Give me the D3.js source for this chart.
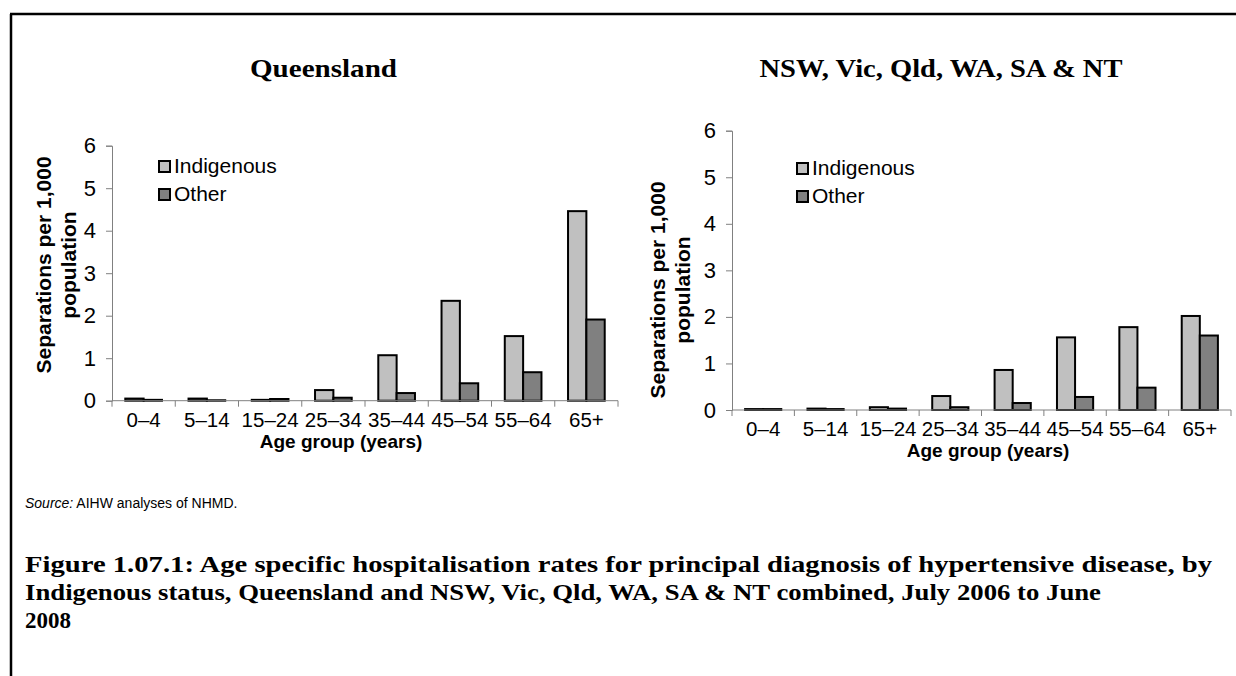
<!DOCTYPE html>
<html>
<head>
<meta charset="utf-8">
<script src="https://cdn.jsdelivr.net/npm/d3@7"></script>
<style>
  html, body { margin: 0; padding: 0; background: #fff; }
  svg { display: block; }
</style>
</head>
<body>
<script>
const categories = ["0–4", "5–14", "15–24", "25–34", "35–44", "45–54", "55–64", "65+"];
const seriesNames = ["Indigenous", "Other"];
const qldIndigenous = [0.05, 0.05, 0.02, 0.25, 1.07, 2.35, 1.52, 4.46];
const qldOther = [0.02, 0.01, 0.04, 0.07, 0.18, 0.41, 0.67, 1.91];
const combIndigenous = [0.02, 0.03, 0.06, 0.30, 0.86, 1.56, 1.78, 2.02];
const combOther = [0.02, 0.02, 0.03, 0.06, 0.15, 0.28, 0.48, 1.60];
const yTicks = [0, 1, 2, 3, 4, 5, 6];
const panelTitles = ["Queensland", "NSW, Vic, Qld, WA, SA & NT"];
const yTitleLines = ["Separations per 1,000", "population"];
const xTitle = "Age group (years)";
const sourceLabel = "Source:";
const sourceText = " AIHW analyses of NHMD.";
const captionLines = [
  "Figure 1.07.1: Age specific hospitalisation rates for principal diagnosis of hypertensive disease, by",
  "Indigenous status, Queensland and NSW, Vic, Qld, WA, SA & NT combined, July 2006 to June",
  "2008"
];

const W = 1236, H = 676;
const colors = { Indigenous: "#c0c0c0", Other: "#808080" };
const sans = "'Liberation Sans', Arial, sans-serif";
const serif = "'Liberation Serif', 'Times New Roman', serif";

const svg = d3.select("body").append("svg").attr("width", W).attr("height", H);

// frame
svg.append("line").attr("x1", 10).attr("x2", W).attr("y1", 14).attr("y2", 14)
  .attr("stroke", "#000").attr("stroke-width", 2.5);
svg.append("line").attr("x1", 11).attr("x2", 11).attr("y1", 14).attr("y2", H)
  .attr("stroke", "#000").attr("stroke-width", 2.5);

const panels = [
  { title: panelTitles[0], titleX: 323.5, titleW: 147, titleY: 77, ind: qldIndigenous, oth: qldOther,
    x0: 112, x1: 618, yTop: 145.7, yBot: 400.7,
    legX: 158, legY: 166, yTitleX: 51, yTitleC: 265, xTitleX: 341 },
  { title: panelTitles[1], titleX: 941, titleW: 363, titleY: 77, ind: combIndigenous, oth: combOther,
    x0: 732, x1: 1231, yTop: 130.7, yBot: 410,
    legX: 796, legY: 168, yTitleX: 665, yTitleC: 290, xTitleX: 988 }
];

panels.forEach(p => {
  const g = svg.append("g");
  const x = d3.scaleBand().domain(categories).range([p.x0, p.x1]).padding(0);
  const xs = d3.scaleBand().domain(seriesNames)
    .range([x.bandwidth() * 0.21, x.bandwidth() * 0.79]).padding(0);
  const y = d3.scaleLinear().domain([0, 6]).range([p.yBot, p.yTop]);

  // title
  g.append("text").attr("x", p.titleX - p.titleW / 2).attr("y", p.titleY)
    .attr("font-family", serif).attr("font-weight", "bold").attr("font-size", 26)
    .attr("textLength", p.titleW).attr("lengthAdjust", "spacingAndGlyphs").text(p.title);

  // y axis
  const yAxis = d3.axisLeft(y).tickValues(yTicks).tickFormat(d3.format("d")).tickSize(6).tickPadding(10);
  const ya = g.append("g").attr("transform", `translate(${p.x0},0)`).call(yAxis);
  ya.select(".domain").attr("stroke", "#808080");
  ya.selectAll(".tick line").attr("stroke", "#808080");
  ya.selectAll(".tick text").attr("font-family", sans).attr("font-size", 22).attr("fill", "#000");

  // bars
  const data = categories.map((c, i) => ({ c, Indigenous: p.ind[i], Other: p.oth[i] }));
  const grp = g.append("g").selectAll("g").data(data).join("g")
    .attr("transform", d => `translate(${x(d.c)},0)`);
  grp.selectAll("rect").data(d => seriesNames.map(s => ({ s, v: d[s] }))).join("rect")
    .attr("x", d => xs(d.s)).attr("width", xs.bandwidth())
    .attr("y", d => y(d.v)).attr("height", d => p.yBot - y(d.v))
    .attr("fill", d => colors[d.s]).attr("stroke", "#000").attr("stroke-width", 2);

  // x axis line and ticks at band edges
  const edges = categories.map(c => x(c)).concat([x.range()[1]]);
  g.append("line").attr("x1", p.x0).attr("x2", p.x1).attr("y1", p.yBot).attr("y2", p.yBot)
    .attr("stroke", "#808080");
  g.append("g").selectAll("line").data(edges).join("line")
    .attr("x1", d => d).attr("x2", d => d).attr("y1", p.yBot).attr("y2", p.yBot + 6)
    .attr("stroke", "#808080");
  g.append("g").selectAll("text").data(categories).join("text")
    .attr("x", d => x(d) + x.bandwidth() / 2).attr("y", p.yBot + 26)
    .attr("text-anchor", "middle").attr("font-family", sans).attr("font-size", 20.5)
    .text(d => d);

  // x title
  g.append("text").attr("x", p.xTitleX).attr("y", p.yBot + 47)
    .attr("text-anchor", "middle").attr("font-family", sans).attr("font-weight", "bold")
    .attr("font-size", 19).text(xTitle);

  // y title
  const yt = g.append("text").attr("transform", `translate(${p.yTitleX},${p.yTitleC}) rotate(-90)`)
    .attr("text-anchor", "middle").attr("font-family", sans).attr("font-weight", "bold")
    .attr("font-size", 21);
  yTitleLines.forEach((t, i) => yt.append("tspan").attr("x", 0).attr("dy", i === 0 ? 0 : 25).text(t));

  // legend
  const leg = g.append("g").attr("transform", `translate(${p.legX},${p.legY})`);
  seriesNames.forEach((s, i) => {
    leg.append("rect").attr("x", 1).attr("y", i * 28 - 5).attr("width", 11).attr("height", 11)
      .attr("fill", colors[s]).attr("stroke", "#000").attr("stroke-width", 2);
    leg.append("text").attr("x", 16).attr("y", i * 28 + 7).attr("font-family", sans)
      .attr("font-size", 21).text(s);
  });
});

// source
const src = svg.append("text").attr("x", 25).attr("y", 508).attr("font-family", sans).attr("font-size", 14);
src.append("tspan").attr("font-style", "italic").text(sourceLabel);
src.append("tspan").text(sourceText);

// caption
captionLines.forEach((t, i) => {
  const tx = svg.append("text").attr("x", 25).attr("y", 572 + i * 28)
    .attr("font-family", serif).attr("font-weight", "bold").attr("font-size", 23).text(t);
  if (i === 0) tx.attr("textLength", 1187).attr("lengthAdjust", "spacingAndGlyphs");
  if (i === 1) tx.attr("textLength", 1076).attr("lengthAdjust", "spacingAndGlyphs");
});
</script>
</body>
</html>
